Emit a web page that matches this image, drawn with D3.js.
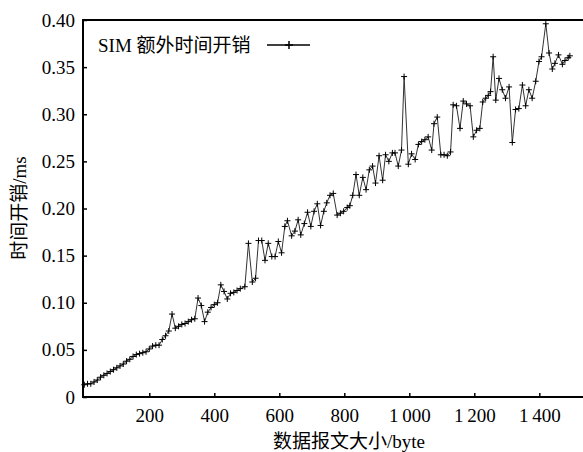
<!DOCTYPE html>
<html><head><meta charset="utf-8">
<script src="https://cdn.jsdelivr.net/npm/d3@7"></script>
<style>
html,body{margin:0;padding:0;background:#fff;}
svg{display:block;}
</style>
</head><body>
<svg id="c" width="583" height="452"></svg>
<script>
// ---- data ----
const sizes = [0,10,20,30,40,50,60,70,80,90,100,110,120,130,140,150,160,170,180,190,200,210,220,230,240,250,260,270,280,290,300,310,320,330,340,350,360,370,380,390,400,410,420,430,440,450,460,470,480,494,
505,517,527,536,546,556,566,577,587,597,607,617,625,638,648,658,666,677,687,697,707,717,727,737,746,756,766,778,788,798,809,817,826,836,846,857,867,877,887,896,907,918,927,937,948,956,966,976,984,997,
1007,1018,1028,1038,1048,1058,1069,1076,1086,1097,1107,1117,1127,1135,1145,1156,1166,1176,1187,1197,1207,1217,1226,1235,1243,1250,1258,1266,1276,1286,1296,1307,1317,1327,1337,1348,1358,1368,1378,1389,1399,1407,1420,1430,1440,1448,1459,1471,1479,1489,1494];
const overhead = [0.013,0.014,0.014,0.016,0.018,0.021,0.023,0.025,0.027,0.029,0.031,0.033,0.035,0.038,0.040,0.043,0.045,0.046,0.047,0.048,0.051,0.054,0.055,0.055,0.061,0.065,0.070,0.088,0.073,0.075,0.077,0.078,0.080,0.082,0.083,0.105,0.097,0.080,0.090,0.095,0.098,0.100,0.119,0.112,0.104,0.110,0.111,0.113,0.115,0.117,
0.163,0.122,0.126,0.166,0.166,0.145,0.163,0.149,0.149,0.165,0.153,0.181,0.187,0.171,0.176,0.188,0.172,0.184,0.196,0.181,0.197,0.205,0.182,0.197,0.206,0.214,0.216,0.193,0.195,0.197,0.201,0.203,0.214,0.236,0.214,0.233,0.220,0.241,0.245,0.227,0.256,0.230,0.257,0.250,0.259,0.259,0.245,0.262,0.340,0.247,
0.258,0.252,0.268,0.271,0.273,0.276,0.262,0.290,0.297,0.257,0.257,0.256,0.260,0.310,0.309,0.285,0.314,0.311,0.309,0.276,0.283,0.285,0.313,0.317,0.320,0.324,0.361,0.315,0.338,0.326,0.317,0.329,0.270,0.305,0.306,0.331,0.309,0.326,0.317,0.335,0.356,0.361,0.396,0.365,0.348,0.354,0.363,0.353,0.357,0.360,0.362];
const xTicks = [200,400,600,800,1000,1200,1400];
const yTicks = [0,0.05,0.10,0.15,0.20,0.25,0.30,0.35,0.40];
const seriesName = "SIM 额外时间开销";
const xTitle = "数据报文大小/byte";
const yTitle = "时间开销/ms";

// ---- layout ----
const svg = d3.select("#c");
const L = 83, T = 20, B = 397;
const x = d3.scaleLinear().domain([0, 1500]).range([84.3, 84.3 + 0.325*1500]);
const y = d3.scaleLinear().domain([0, 0.40]).range([B, T]);
const R = 590;
const serif = "'Liberation Serif','Times New Roman',serif";
const cjk = "'Liberation Serif','Noto Sans CJK SC',serif";

// frame
svg.append("path").attr("d", `M${R},${T}H${L}V${B}H${R}`)
  .attr("fill","none").attr("stroke","#000").attr("stroke-width",2);

// y axis
const yAxis = d3.axisLeft(y).tickValues(yTicks).tickSize(-4).tickPadding(8)
  .tickFormat(d => d === 0 ? "0" : d3.format(".2f")(d));
const gy = svg.append("g").attr("transform",`translate(${L},0)`).call(yAxis);
gy.select(".domain").remove();
gy.selectAll(".tick line").attr("stroke","#000").attr("stroke-width",1.5);
gy.selectAll(".tick text").attr("font-family",serif).attr("font-size",19).attr("fill","#000");

// x axis
const fmtX = d => d >= 1000 ? Math.floor(d/1000) + "\u2009" + d3.format("03d")(d % 1000) : String(d);
const xAxis = d3.axisBottom(x).tickValues(xTicks).tickSize(-4).tickPadding(12).tickFormat(fmtX);
const gx = svg.append("g").attr("transform",`translate(0,${B})`).call(xAxis);
gx.select(".domain").remove();
gx.selectAll(".tick line").attr("stroke","#000").attr("stroke-width",1.5);
gx.selectAll(".tick text").attr("font-family",serif).attr("font-size",19).attr("fill","#000");

// line
const pts = sizes.map((s,i) => [s, overhead[i]]);
svg.append("path").datum(pts)
  .attr("d", d3.line().x(d => x(d[0])).y(d => y(d[1])))
  .attr("fill","none").attr("stroke","#333").attr("stroke-width",1);

// markers
const m = 3;
svg.append("g").selectAll("path").data(pts).join("path")
  .attr("d", d => { const cx = x(d[0]), cy = y(d[1]); return `M${cx-m},${cy}H${cx+m}M${cx},${cy-m}V${cy+m}`; })
  .attr("stroke","#000").attr("stroke-width",1).attr("fill","none");

// legend
svg.append("text").attr("x",98).attr("y",52).attr("font-family",cjk).attr("font-size",19)
  .attr("fill","#000").text(seriesName);
svg.append("line").attr("x1",267).attr("x2",310).attr("y1",45).attr("y2",45)
  .attr("stroke","#000").attr("stroke-width",1.5);
svg.append("path").attr("d","M285,45H293M289,41V49").attr("stroke","#000").attr("stroke-width",1.5);

// titles
svg.append("text").attr("x",349).attr("y",448).attr("text-anchor","middle")
  .attr("font-family",cjk).attr("font-size",19).attr("fill","#000").text(xTitle);
svg.append("text").attr("transform","translate(26,208) rotate(-90)").attr("text-anchor","middle")
  .attr("font-family",cjk).attr("font-size",19).attr("fill","#000").text(yTitle);
</script>
</body></html>
